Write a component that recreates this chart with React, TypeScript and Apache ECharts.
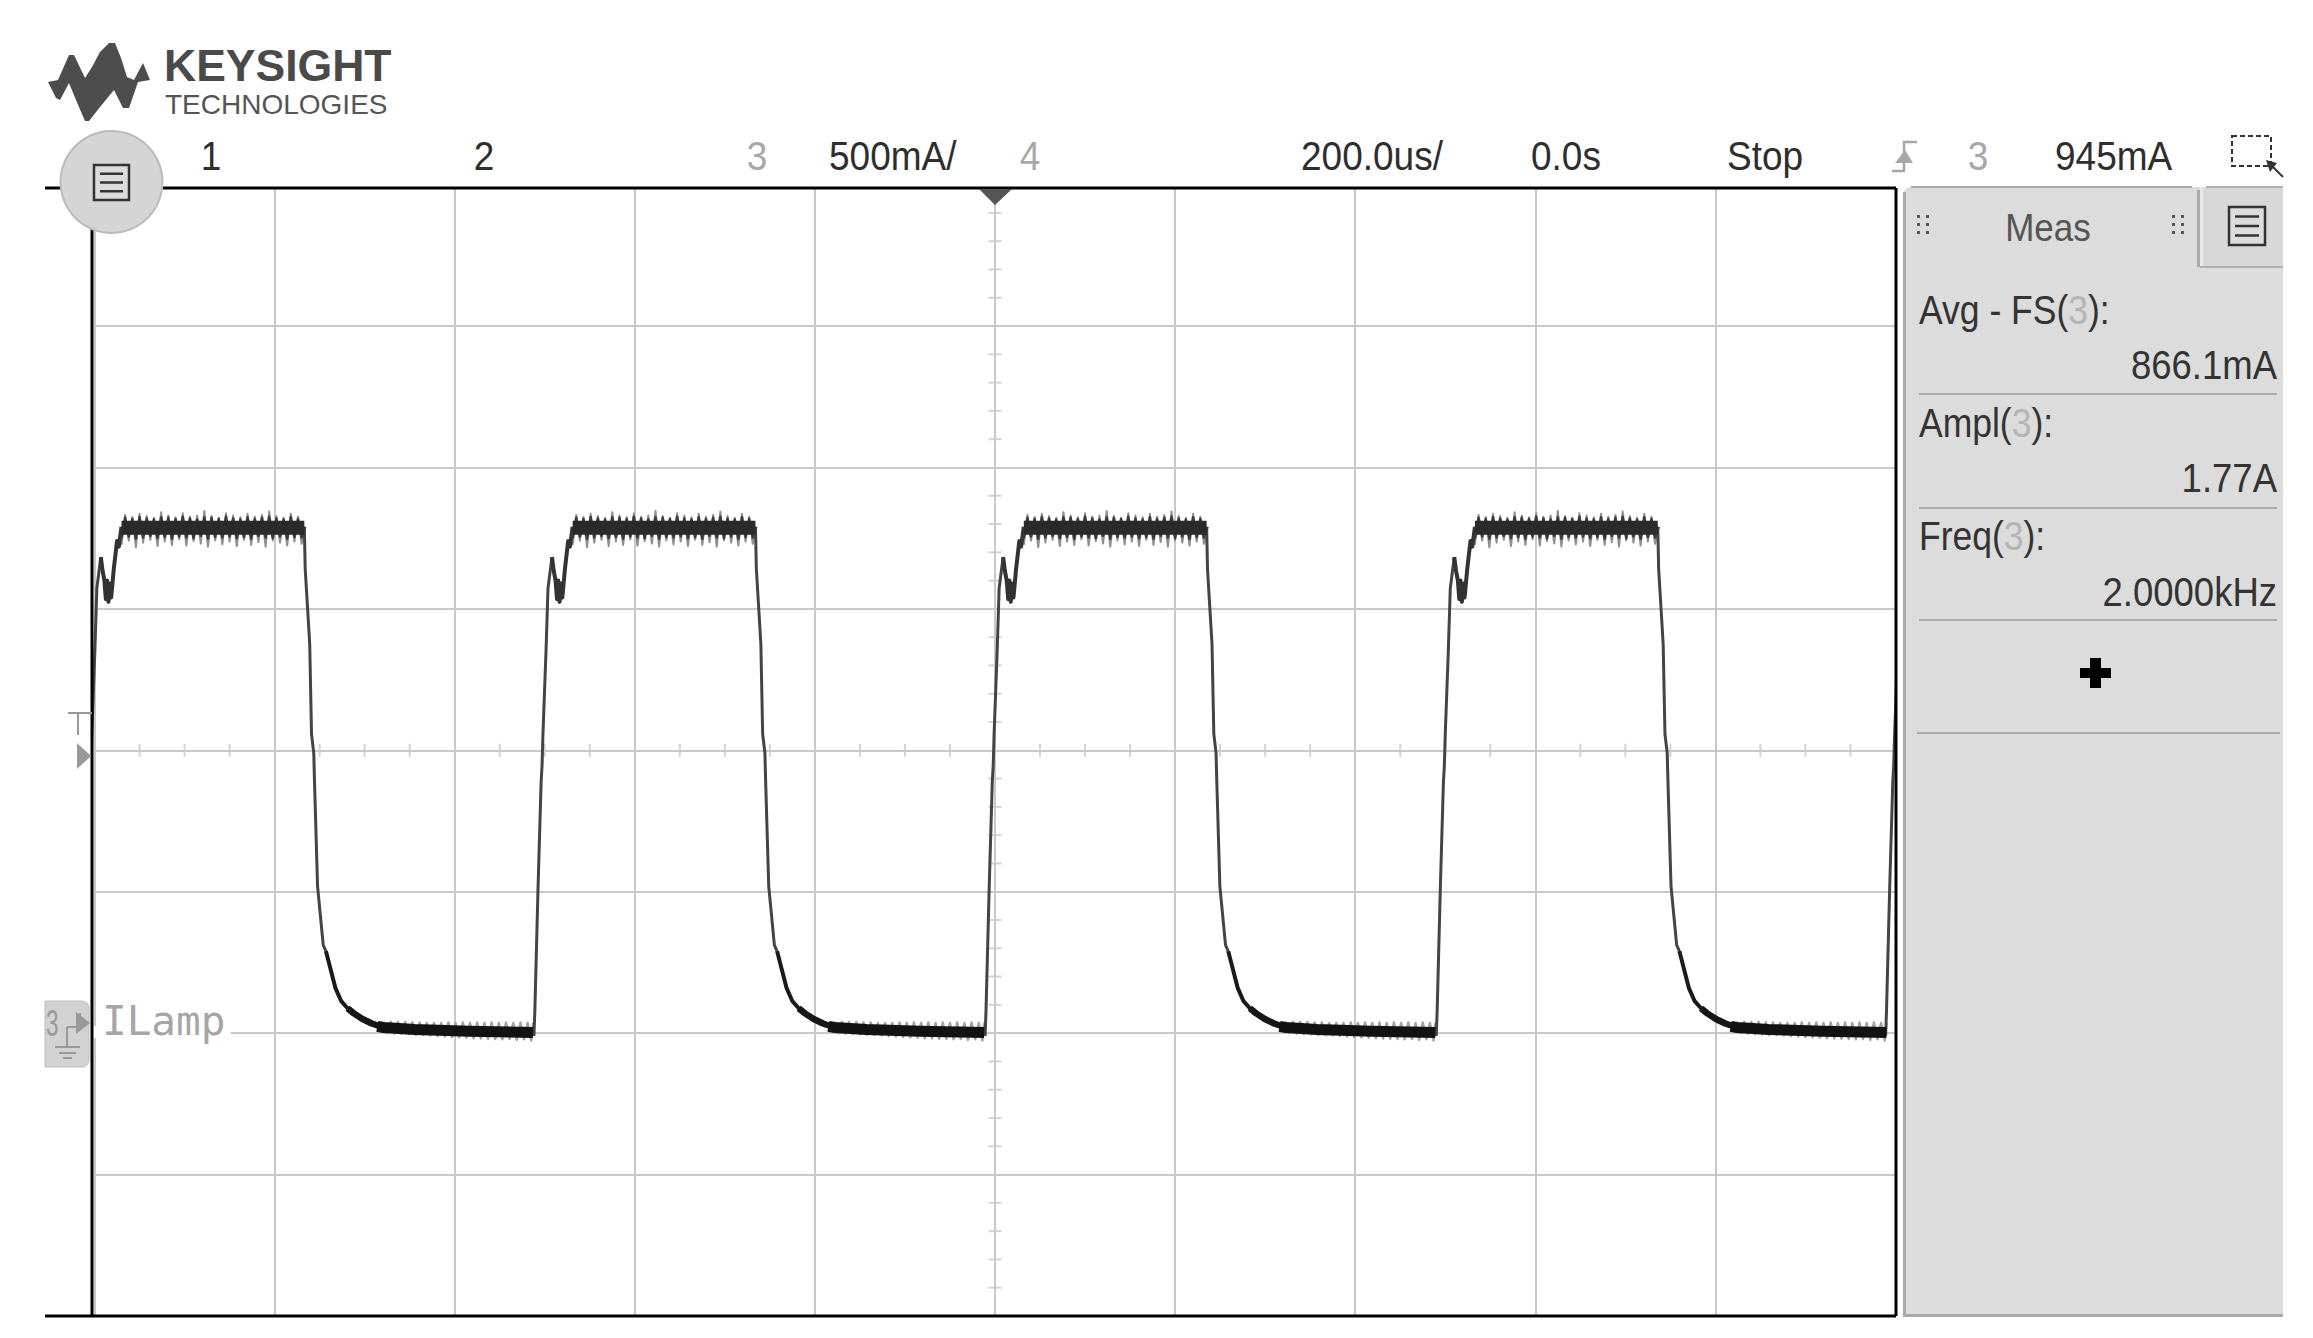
import React, { useEffect, useRef } from "react";
import * as echarts from "echarts";

// Readings from the scope display: time in us, current in mA
const pulseStarts = [-1004, -503, -2, 499, 998];

const riseT = [-9, -8, -4.4, -1, 0, 1, 4.4, 6.6, 11];
const riseI = [-10, 78, 520, 891, 945, 1057, 1351, 1573, 1683];

const humpT = [11, 13, 15, 16.6, 18, 19.5, 21, 22.5, 25.5, 29, 31, 34];
const humpI = [1683, 1634, 1600, 1535, 1600, 1525, 1590, 1540, 1644, 1740, 1720, 1790];

const plateauCoreT = [34, 237];
const plateauCoreI = [1787, 1787];

const plateauT = [34, 38, 42, 46, 50, 54, 58, 62, 66, 70, 74, 78, 82, 86, 90, 94, 98, 102, 106, 110, 114, 118, 122, 126, 130, 134, 138, 142, 146, 150, 154, 158, 162, 166, 170, 174, 178, 182, 186, 190, 194, 198, 202, 206, 210, 214, 218, 222, 226, 230, 234, 238];
const plateauDark = [1750, 1822, 1756, 1818, 1748, 1825, 1752, 1820, 1758, 1816, 1750, 1824, 1754, 1822, 1748, 1818, 1756, 1826, 1752, 1820, 1750, 1816, 1758, 1824, 1748, 1822, 1754, 1818, 1752, 1826, 1756, 1820, 1750, 1816, 1754, 1824, 1748, 1818, 1758, 1822, 1752, 1826, 1750, 1820, 1756, 1816, 1748, 1824, 1754, 1818, 1752, 1790];
const plateauHaze = [1726, 1832, 1741, 1825, 1718, 1836, 1734, 1828, 1744, 1822, 1722, 1842, 1738, 1830, 1726, 1824, 1746, 1838, 1724, 1826, 1740, 1830, 1731, 1846, 1720, 1828, 1742, 1822, 1728, 1838, 1738, 1830, 1722, 1824, 1744, 1836, 1726, 1826, 1736, 1832, 1720, 1844, 1742, 1828, 1734, 1822, 1724, 1836, 1738, 1826, 1730, 1790];

const fallT = [237, 238, 240.6, 243, 245, 247.5, 248.3, 251.7, 258, 261];
const fallI = [1790, 1640, 1503, 1375, 1057, 990, 891, 520, 311, 290];

const tailT = [261, 271.6, 278, 285, 292];
const tailI = [290, 159, 113, 88, 70];

const bendT = [285, 292, 301.6, 312, 325, 340];
const bendI = [88, 70, 50, 34, 20, 15];

const lowCoreT = [318, 325, 360, 420, 491];
const lowCoreI = [24, 20, 13, 7, 2];

const lowT = [325, 329, 333, 337, 341, 345, 349, 353, 357, 361, 365, 369, 373, 377, 381, 385, 389, 393, 397, 401, 405, 409, 413, 417, 421, 425, 429, 433, 437, 441, 445, 449, 453, 457, 461, 465, 469, 473, 477, 481, 485, 489, 491];
const lowHaze = [40, 0, 40, -2, 40, -3, 40, -4, 38, -6, 38, -7, 36, -8, 36, -10, 36, -12, 38, -14, 36, -15, 38, -16, 36, -18, 38, -19, 36, -20, 38, -21, 36, -22, 38, -21, 36, -24, 38, -22, 36, -26, 36];

const xMinorTicks = [-950, -900, -850, -750, -700, -650, -550, -500, -450, -350, -300, -250, -150, -100, -50, 50, 100, 150, 250, 300, 350, 450, 500, 550, 650, 700, 750, 850, 900, 950];
const yMinorTicks = [-900, -800, -700, -600, -400, -300, -200, -100, 100, 200, 300, 400, 600, 700, 800, 900, 1100, 1200, 1300, 1400, 1600, 1700, 1800, 1900, 2100, 2200, 2300, 2400, 2600, 2700, 2800, 2900];

const headerDark = [
  ["1", 211, "center"],
  ["2", 484, "center"],
  ["500mA/", 829, "left"],
  ["200.0us/", 1301, "left"],
  ["0.0s", 1531, "left"],
  ["Stop", 1727, "left"],
  ["945mA", 2055, "left"],
] as const;
const headerGrey = [
  ["3", 757],
  ["4", 1030],
  ["3", 1978],
] as const;

const logoPoints = [[48, 82], [58, 80], [69, 55], [74, 55], [85, 78], [92, 67], [100, 52], [109, 43], [115, 43], [121, 58], [127, 77], [134, 80], [143, 63], [150, 80], [138, 82], [129, 108], [123, 108], [114, 90], [100, 107], [89, 121], [85, 121], [76, 100], [69, 83], [60, 100], [56, 98]];

const SANS = '"Liberation Sans", Arial, sans-serif';
const GRID = "#c9c9c9";

const overPeriods = (t: number[], v: number[]) =>
  pulseStarts.flatMap((s) => [
    ...t.map((x, i) => [s + x, v[i]]),
    [s + t[t.length - 1], null],
  ]);

const trace = (name: string, t: number[], v: number[], color: string, width: number, z: number) => ({
  name,
  type: "line",
  data: overPeriods(t, v),
  showSymbol: false,
  symbol: "none",
  connectNulls: false,
  smooth: false,
  z,
  lineStyle: { color, width, join: "round" },
});

const txt = (text: string, x: number, y: number, size: number, fill: string, align = "left", extra: any = {}, scaleY = 1, scaleX = 1) => ({
  type: "text",
  x,
  y,
  scaleX,
  scaleY,
  z: 20,
  style: { text, fontSize: size, fontFamily: SANS, fill, align, verticalAlign: "middle", ...extra },
});

const ln = (x1: number, y1: number, x2: number, y2: number, stroke: string, lineWidth: number, z = 20) => ({
  type: "line",
  z,
  shape: { x1, y1, x2, y2 },
  style: { stroke, lineWidth },
});

const box = (x: number, y: number, width: number, height: number, fill: string, r: any = 0, z = 15, stroke?: string, lineWidth = 0) => ({
  type: "rect",
  z,
  shape: { x, y, width, height, r },
  style: { fill, stroke, lineWidth },
});

const dots = (x: number, y: number) =>
  [0, 1, 2].flatMap((row) => [0, 1].map((col) => box(x + col * 9, y + row * 8, 3, 3, "#555", 0, 20)));

const menuIcon = (x: number, y: number, w: number, h: number, fill: string) => [
  { type: "rect", z: 21, shape: { x, y, width: w, height: h }, style: { fill, stroke: "#333", lineWidth: 2.5 } },
  ...[0.25, 0.5, 0.75].map((f) => ln(x + 6, y + h * f, x + w - 6, y + h * f, "#333", 2.5, 21)),
];

const measLabel = (head: string, y: number) => ({
  type: "text",
  x: 1919,
  y,
  scaleY: 1.16,
  z: 20,
  style: {
    text: `{a|${head}(}{b|3}{a|):}`,
    rich: {
      a: { fontSize: 35.5, fontFamily: SANS, fill: "#333" },
      b: { fontSize: 35.5, fontFamily: SANS, fill: "#b5b5b5" },
    },
    align: "left",
    verticalAlign: "middle",
  },
});

export default function App() {
  const ref = useRef<HTMLDivElement>(null);
  useEffect(() => {
    const chart = echarts.init(ref.current!, undefined, { renderer: "svg" });
    const graphic: any[] = [
      // logo
      { type: "polygon", z: 20, shape: { points: logoPoints }, style: { fill: "#4d4d4d" } },
      txt("KEYSIGHT", 164, 65, 44.5, "#4a4a4a", "left", { fontWeight: "bold" }),
      txt("TECHNOLOGIES", 165, 104, 28, "#555"),
      // frame
      ln(45, 188, 1896, 188, "#000", 3),
      ln(45, 1316, 1896, 1316, "#000", 3),
      ln(92, 188, 92, 1316, "#000", 3),
      ln(1896, 188, 1896, 1316, "#000", 3),
      // menu button
      { type: "circle", z: 20, shape: { cx: 111.5, cy: 182, r: 51 }, style: { fill: "#d5d5d5", stroke: "#bbb", lineWidth: 2 } },
      ...menuIcon(94, 165, 35, 35, "#dcdcdc"),
      // header texts
      ...headerDark.map(([t, x, a]) => txt(t, x, 156, 37, "#2e2e2e", a, {}, 1.08)),
      ...headerGrey.map(([t, x]) => txt(t, x, 156, 37, "#a8a8a8", "center", {}, 1.08)),
      // trigger icon
      { type: "polyline", z: 20, shape: { points: [[1892, 171], [1904, 171], [1904, 142], [1917, 142]] }, style: { stroke: "#a8a8a8", fill: "none", lineWidth: 2.5 } },
      { type: "polygon", z: 20, shape: { points: [[1895, 163], [1913, 163], [1905, 150]] }, style: { fill: "#a8a8a8" } },
      // selection icon
      { type: "rect", z: 20, shape: { x: 2232, y: 136, width: 39, height: 30 }, style: { fill: "none", stroke: "#333", lineWidth: 2, lineDash: [5, 3] } },
      ln(2268, 162, 2283, 177, "#333", 2),
      { type: "polygon", z: 20, shape: { points: [[2266, 160], [2277, 163], [2270, 172]] }, style: { fill: "#333" } },
      // centre marker
      { type: "polygon", z: 20, shape: { points: [[979, 189], [1012, 189], [995, 205]] }, style: { fill: "#555" } },
      // T marker
      ln(68, 713, 92, 713, "#999", 2),
      ln(78, 713, 78, 735, "#999", 2),
      { type: "polygon", z: 20, shape: { points: [[77, 743], [91, 756], [77, 769]] }, style: { fill: "#999" } },
      // channel marker
      box(45, 1001, 44, 66, "#d2d2d2", [0, 7, 7, 0], 18, "#bdbdbd", 1),
      txt("3", 46, 1023, 30, "#999", "left", {}, 1.25, 0.75),
      ln(55, 1047, 80, 1047, "#999", 2),
      ln(59, 1053, 76, 1053, "#999", 2),
      ln(63, 1058, 72, 1058, "#999", 2),
      ln(67, 1027, 67, 1047, "#999", 2),
      ln(67, 1027, 80, 1027, "#999", 2),
      ln(80, 1013, 80, 1027, "#999", 2),
      { type: "polygon", z: 20, shape: { points: [[76, 1012], [90, 1023], [76, 1034]] }, style: { fill: "#999" } },
      // channel label
      box(94, 1026, 137, 12, "#fff", 0, 12),
      { type: "text", x: 102, y: 1021, z: 20, style: { text: "ILamp", fontSize: 41, fontFamily: '"DejaVu Sans Mono", monospace', fill: "#a6a6a6", align: "left", verticalAlign: "middle" } },
      // measurement panel
      box(1903, 187, 380, 1129, "#dcdcdc", [8, 8, 0, 0], 14),
      box(1903, 1314, 380, 3, "#aaa", 0, 15),
      box(1903, 192, 3, 1124, "#aaa", 0, 15),
      ln(1911, 187, 2192, 187, "#aaa", 2),
      box(2203, 187, 80, 80, "#d8d8d8", [8, 0, 0, 0], 15),
      box(2197, 190, 3, 77, "#aaa", 0, 16),
      box(2200, 187, 3, 80, "#e8e8e8", 0, 16),
      ln(2200, 267, 2283, 267, "#b0b0b0", 2, 16),
      ln(2206, 187, 2283, 187, "#b0b0b0", 2, 16),
      ...menuIcon(2229, 207, 36, 38, "#dcdcdc"),
      ...dots(1917, 215),
      ...dots(2172, 215),
      txt("Meas", 2048, 227, 35, "#555", "center", {}, 1.12),
      measLabel("Avg - FS", 310),
      txt("866.1mA", 2277, 365, 36.5, "#333", "right", {}, 1.12),
      ln(1919, 394, 2277, 394, "#aaa", 2),
      measLabel("Ampl", 423),
      txt("1.77A", 2277, 478, 36.5, "#333", "right", {}, 1.12),
      ln(1919, 508, 2277, 508, "#aaa", 2),
      measLabel("Freq", 536),
      txt("2.0000kHz", 2277, 592, 36.5, "#333", "right", {}, 1.12),
      ln(1919, 620, 2277, 620, "#aaa", 2),
      box(2080, 668, 31, 10, "#000", 0, 20),
      box(2090, 658, 11, 30, "#000", 0, 20),
      ln(1917, 733, 2280, 733, "#aaa", 2),
    ];

    chart.setOption({
      animation: false,
      backgroundColor: "#fff",
      grid: { left: 94.5, top: 188, width: 1801, height: 1128, containLabel: false },
      tooltip: { show: false },
      xAxis: {
        type: "value",
        min: -1000,
        max: 1000,
        interval: 200,
        axisLine: { show: false },
        axisTick: { show: false },
        axisLabel: { show: false },
        splitLine: { show: true, lineStyle: { color: GRID, width: 2 } },
      },
      yAxis: {
        type: "value",
        min: -1000,
        max: 2988,
        interval: 500,
        axisLine: { show: false },
        axisTick: { show: false },
        axisLabel: { show: false },
        splitLine: { show: true, lineStyle: { color: GRID, width: 2 } },
      },
      series: [
        { name: "xTicks", type: "scatter", symbol: "rect", symbolSize: [2, 13], z: 1, itemStyle: { color: GRID }, data: xMinorTicks.map((t) => [t, 1000]) },
        { name: "yTicks", type: "scatter", symbol: "rect", symbolSize: [13, 2], z: 1, itemStyle: { color: GRID }, data: yMinorTicks.map((v) => [0, v]) },
        trace("plateauHaze", plateauT, plateauHaze, "#8f8f8f", 2, 2),
        trace("lowHaze", lowT, lowHaze, "#a4a4a4", 2.4, 2),
        trace("rise", riseT, riseI, "#444", 3, 3),
        trace("fall", fallT, fallI, "#444", 3, 3),
        trace("hump", humpT, humpI, "#333", 4, 4),
        trace("tail", tailT, tailI, "#1a1a1a", 4, 4),
        trace("bend", bendT, bendI, "#161616", 6.5, 4),
        trace("plateau", plateauT, plateauDark, "#3a3a3a", 2.4, 4),
        trace("plateauCore", plateauCoreT, plateauCoreI, "#2a2a2a", 14, 5),
        trace("lowCore", lowCoreT, lowCoreI, "#121212", 11, 5),
      ],
      graphic,
    });
    return () => chart.dispose();
  }, []);
  return <div ref={ref} style={{ position: "absolute", left: 0, top: 0, width: 2313, height: 1338 }} />;
}
